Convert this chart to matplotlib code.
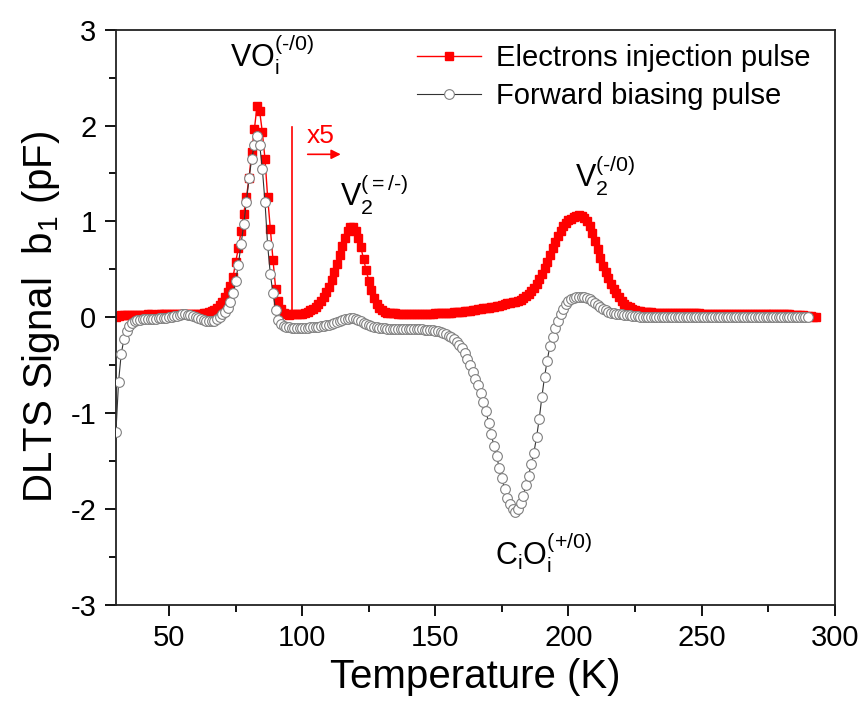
import numpy as np
import matplotlib
matplotlib.use('Agg')
import matplotlib.pyplot as plt

plt.rcParams['font.family'] = ['Liberation Sans', 'DejaVu Sans']
plt.rcParams['mathtext.fontset'] = 'custom'
plt.rcParams['mathtext.rm'] = 'Liberation Sans'
plt.rcParams['mathtext.it'] = 'Liberation Sans:italic'
plt.rcParams['axes.unicode_minus'] = False

# Electrons injection pulse (values above 96 K are multiplied by 5)
temp_e = np.arange(30, 294)
signal_e = [
    0.00, 0.01, 0.02, 0.02, 0.02, 0.02, 0.02, 0.02, 0.02, 0.02,
    0.02, 0.02, 0.03, 0.03, 0.02, 0.02, 0.03, 0.03, 0.03, 0.03,
    0.03, 0.03, 0.03, 0.03, 0.03, 0.03, 0.03, 0.03, 0.03, 0.03,
    0.03, 0.035, 0.04, 0.045, 0.05, 0.06, 0.07, 0.08, 0.10, 0.13,
    0.16, 0.21, 0.26, 0.33, 0.42, 0.58, 0.72, 0.90, 1.08, 1.25,
    1.45, 1.72, 1.96, 2.20, 2.15, 1.93, 1.65, 1.25, 0.92, 0.60,
    0.30, 0.17, 0.09, 0.05, 0.03, 0.02, 0.03, 0.03, 0.03, 0.035,
    0.04, 0.05, 0.06, 0.075, 0.09, 0.11, 0.14, 0.17, 0.21, 0.26,
    0.32, 0.39, 0.47, 0.56, 0.65, 0.74, 0.83, 0.90, 0.94, 0.94,
    0.90, 0.83, 0.73, 0.61, 0.49, 0.38, 0.28, 0.20, 0.14, 0.10,
    0.075, 0.06, 0.05, 0.045, 0.045, 0.045, 0.04, 0.04, 0.04, 0.04,
    0.04, 0.04, 0.04, 0.04, 0.04, 0.04, 0.04, 0.04, 0.04, 0.04,
    0.045, 0.045, 0.045, 0.05, 0.05, 0.05, 0.05, 0.055, 0.055, 0.06,
    0.06, 0.065, 0.065, 0.07, 0.075, 0.08, 0.085, 0.09, 0.095, 0.10,
    0.10, 0.11, 0.11, 0.12, 0.12, 0.13, 0.14, 0.145, 0.15, 0.155,
    0.16, 0.17, 0.18, 0.20, 0.22, 0.245, 0.27, 0.31, 0.35, 0.40,
    0.45, 0.51, 0.58, 0.65, 0.72, 0.79, 0.85, 0.90, 0.95, 0.98,
    1.01, 1.03, 1.05, 1.06, 1.07, 1.06, 1.04, 1.00, 0.95, 0.88,
    0.80, 0.71, 0.62, 0.54, 0.47, 0.41, 0.35, 0.30, 0.25, 0.21,
    0.17, 0.14, 0.12, 0.105, 0.09, 0.08, 0.07, 0.065, 0.06, 0.06,
    0.055, 0.055, 0.05, 0.05, 0.05, 0.05, 0.05, 0.05, 0.05, 0.05,
    0.045, 0.045, 0.045, 0.045, 0.045, 0.045, 0.045, 0.045, 0.045, 0.045,
    0.04, 0.04, 0.04, 0.04, 0.04, 0.04, 0.04, 0.04, 0.04, 0.04,
    0.04, 0.04, 0.04, 0.04, 0.04, 0.04, 0.04, 0.04, 0.04, 0.04,
    0.035, 0.035, 0.035, 0.035, 0.035, 0.035, 0.035, 0.035, 0.035, 0.035,
    0.03, 0.03, 0.03, 0.03, 0.025, 0.025, 0.02, 0.02, 0.02, 0.015,
    0.01, 0.01, 0.005, 0.00,
]

# Forward biasing pulse
temp_f = np.arange(30, 291)
signal_f = [
    -1.20, -0.67, -0.38, -0.23, -0.14, -0.09, -0.06, -0.04, -0.03, -0.03,
    -0.02, -0.02, -0.02, -0.02, -0.02, -0.015, -0.01, -0.01, -0.01, -0.005,
    0.00, 0.00, 0.01, 0.015, 0.02, 0.03, 0.03, 0.025, 0.02, 0.01,
    0.00, -0.01, -0.02, -0.03, -0.035, -0.04, -0.04, -0.035, -0.02, 0.00,
    0.03, 0.06, 0.10, 0.16, 0.25, 0.38, 0.55, 0.76, 0.97, 1.20,
    1.45, 1.65, 1.80, 1.89, 1.80, 1.55, 1.20, 0.75, 0.45, 0.25,
    0.08, -0.03, -0.07, -0.09, -0.10, -0.105, -0.11, -0.11, -0.11, -0.11,
    -0.11, -0.11, -0.11, -0.10, -0.10, -0.10, -0.10, -0.09, -0.09, -0.08,
    -0.08, -0.07, -0.06, -0.05, -0.04, -0.03, -0.02, -0.015, -0.01, -0.01,
    -0.02, -0.03, -0.04, -0.055, -0.07, -0.08, -0.09, -0.10, -0.105, -0.11,
    -0.11, -0.115, -0.12, -0.12, -0.12, -0.12, -0.12, -0.12, -0.12, -0.12,
    -0.12, -0.12, -0.12, -0.12, -0.125, -0.125, -0.13, -0.13, -0.13, -0.135,
    -0.14, -0.145, -0.15, -0.16, -0.17, -0.19, -0.21, -0.23, -0.26, -0.29,
    -0.32, -0.37, -0.43, -0.50, -0.57, -0.64, -0.71, -0.79, -0.88, -0.98,
    -1.10, -1.22, -1.34, -1.45, -1.57, -1.68, -1.79, -1.88, -1.95, -2.00,
    -2.03, -2.00, -1.94, -1.86, -1.75, -1.65, -1.53, -1.41, -1.25, -1.06,
    -0.83, -0.62, -0.45, -0.30, -0.20, -0.11, -0.04, 0.03, 0.09, 0.14,
    0.17, 0.19, 0.20, 0.21, 0.21, 0.21, 0.21, 0.20, 0.19, 0.17,
    0.15, 0.13, 0.11, 0.09, 0.08, 0.06, 0.05, 0.045, 0.04, 0.035,
    0.03, 0.025, 0.02, 0.02, 0.015, 0.01, 0.01, 0.005, 0.005, 0.00,
    0.00, 0.00, 0.00, 0.00, 0.00, 0.00, 0.00, 0.00, 0.00, 0.00,
    0.00, 0.00, 0.00, 0.00, 0.00, 0.00, 0.00, 0.00, 0.00, 0.00,
    0.00, 0.00, 0.00, 0.00, 0.00, 0.00, 0.00, 0.00, 0.00, 0.00,
    0.00, 0.00, 0.00, 0.00, 0.00, 0.00, 0.00, 0.00, 0.00, 0.00,
    0.00, 0.00, 0.00, 0.00, 0.00, 0.00, 0.00, 0.00, 0.00, 0.00,
    0.00, 0.00, 0.00, 0.00, 0.00, 0.00, 0.00, 0.00, 0.00, 0.00,
    0.00,
]

# x5 scale marker
scale_temp = 96
scale_top = 1.99

fig = plt.figure(figsize=(8.65, 7.06), dpi=100)
ax = fig.add_axes([0.134, 0.143, 0.831, 0.815])

ax.plot(temp_e, signal_e, color='#ff0000', lw=1, marker='s', ms=6.2,
        mec='#ff0000', mfc='#ff0000', label='Electrons injection pulse', zorder=2)
ax.plot(temp_f, signal_f, color='#333333', lw=0.8, marker='o', ms=7,
        mec='#7f7f7f', mfc='white', mew=0.8, label='Forward biasing pulse', zorder=3)

# x5 marker
ax.plot([scale_temp, scale_temp], [0.03, scale_top], color='#ff0000', lw=1.2, zorder=1)
ax.annotate('', xy=(115.5, 1.70), xytext=(101, 1.70),
            arrowprops=dict(arrowstyle='-|>', color='#ff0000', lw=1.2, mutation_scale=14))
ax.text(101.5, 1.82, 'x5', color='#ff0000', fontsize=19, ha='left', va='baseline')

# peak labels (U+2010 hyphen keeps mathtext from drawing a long minus)
ax.text(73, 2.62, 'VO$_\\mathregular{i}^\\mathregular{(\u2010/0)}$', fontsize=22, va='baseline')
ax.text(114, 1.16, 'V$_\\mathregular{2}^\\mathregular{({=}/\u2010)}$', fontsize=22, va='baseline')
ax.text(202.5, 1.35, 'V$_\\mathregular{2}^\\mathregular{(\u2010/0)}$', fontsize=22, va='baseline')
ax.text(172.5, -2.58, r'C$_\mathregular{i}$O$_\mathregular{i}^\mathregular{(+/0)}$',
        fontsize=22, va='baseline')

ax.set_xlim(30, 300)
ax.set_ylim(-3, 3)
ax.set_xticks([50, 100, 150, 200, 250, 300])
ax.set_xticks(np.arange(75, 300, 50), minor=True)
ax.set_yticks([-3, -2, -1, 0, 1, 2, 3])
ax.set_yticks(np.arange(-2.5, 3, 1), minor=True)
ax.tick_params(which='major', direction='out', length=8, width=1.3, labelsize=21, pad=6)
ax.tick_params(which='minor', direction='out', length=5, width=1.3)
for s in ax.spines.values():
    s.set_linewidth(1.3)
    s.set_color('#222222')

ax.set_xlabel('Temperature (K)', fontsize=29, labelpad=4)
ax.set_ylabel(r'DLTS Signal  b$_\mathregular{1}$ (pF)', fontsize=29, labelpad=6)

ax.legend(loc='upper right', bbox_to_anchor=(0.99, 1.005), frameon=False, fontsize=21,
          numpoints=1, handlelength=2.2, handletextpad=0.5, labelspacing=0.35,
          borderaxespad=0.2)

fig.savefig('out.png', dpi=100)
